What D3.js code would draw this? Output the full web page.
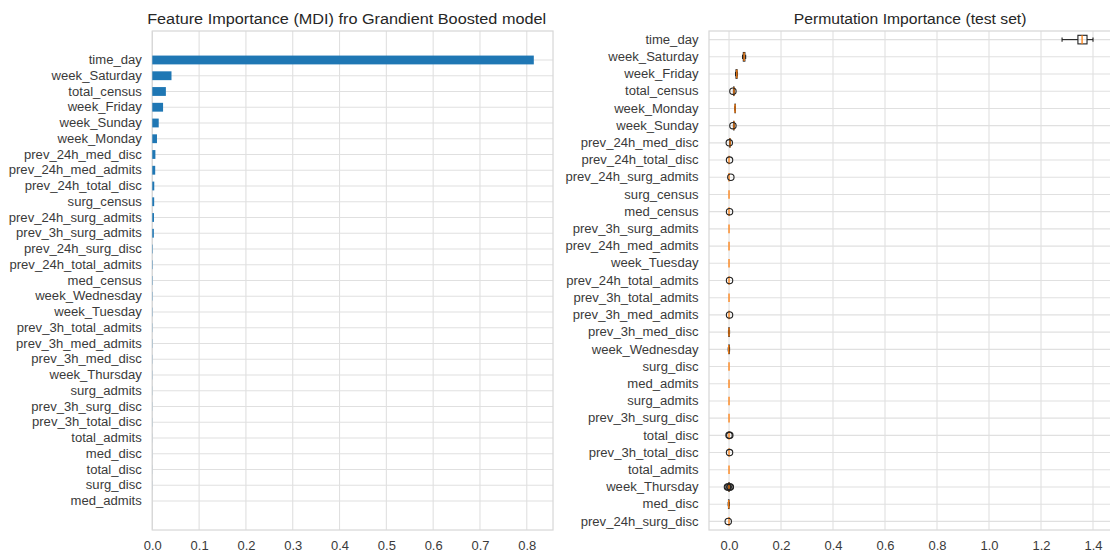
<!DOCTYPE html>
<html>
<head>
<meta charset="utf-8">
<script src="https://cdn.jsdelivr.net/npm/d3@7"></script>
<style>
  html, body { margin: 0; padding: 0; background: #fff; }
  svg { display: block; font-family: "Liberation Sans", Arial, sans-serif; }
  .tick-label { fill: #3a3a3a; font-size: 12px; }
  .title { fill: #262626; font-size: 14px; }
</style>
</head>
<body>
<svg id="chart" width="1110" height="557"></svg>
<script>
// Mean-decrease-in-impurity importances, sorted from largest to smallest
const mdiFeatures = [
  "time_day", "week_Saturday", "total_census", "week_Friday", "week_Sunday",
  "week_Monday", "prev_24h_med_disc", "prev_24h_med_admits", "prev_24h_total_disc",
  "surg_census", "prev_24h_surg_admits", "prev_3h_surg_admits", "prev_24h_surg_disc",
  "prev_24h_total_admits", "med_census", "week_Wednesday", "week_Tuesday",
  "prev_3h_total_admits", "prev_3h_med_admits", "prev_3h_med_disc", "week_Thursday",
  "surg_admits", "prev_3h_surg_disc", "prev_3h_total_disc", "total_admits",
  "med_disc", "total_disc", "surg_disc", "med_admits"
];
const mdiValues = [
  0.815, 0.041, 0.029, 0.023, 0.0137,
  0.0100, 0.0066, 0.0062, 0.0042,
  0.0040, 0.0036, 0.0033, 0.0009,
  0.0008, 0.0007, 0.0006, 0.0005,
  0.0004, 0.0004, 0.0003, 0.0003,
  0.0002, 0.0002, 0.0002, 0.0001,
  0.0001, 0.0001, 0.0001, 0.0000
];
const mdiTicks = [0.0, 0.1, 0.2, 0.3, 0.4, 0.5, 0.6, 0.7, 0.8];

// Permutation importance on the test set: box statistics per feature
const permFeatures = [
  "time_day", "week_Saturday", "week_Friday", "total_census", "week_Monday",
  "week_Sunday", "prev_24h_med_disc", "prev_24h_total_disc", "prev_24h_surg_admits",
  "surg_census", "med_census", "prev_3h_surg_admits", "prev_24h_med_admits",
  "week_Tuesday", "prev_24h_total_admits", "prev_3h_total_admits", "prev_3h_med_admits",
  "prev_3h_med_disc", "week_Wednesday", "surg_disc", "med_admits", "surg_admits",
  "prev_3h_surg_disc", "total_disc", "prev_3h_total_disc", "total_admits",
  "week_Thursday", "med_disc", "prev_24h_surg_disc"
];
const permLow = [
  1.281, 0.052, 0.025, 0.017, 0.022,
  0.017, 0.002, 0.000, 0.000,
  0.000, 0.000, 0.000, 0.000,
  0.000, 0.000, 0.000, 0.000,
  -0.002, -0.003, 0.000, 0.000, 0.000,
  0.000, 0.000, 0.000, 0.000,
  -0.002, -0.003, 0.000
];
const permQ1 = [
  1.342, 0.055, 0.027, 0.018, 0.023,
  0.018, 0.003, 0.000, 0.000,
  0.000, 0.000, 0.000, 0.000,
  0.000, 0.000, 0.000, 0.000,
  -0.001, -0.001, 0.000, 0.000, 0.000,
  0.000, 0.000, 0.000, 0.000,
  -0.001, -0.002, 0.000
];
const permMedian = [
  1.358, 0.058, 0.030, 0.019, 0.023,
  0.019, 0.004, 0.000, 0.000,
  0.000, 0.000, 0.000, 0.000,
  0.000, 0.000, 0.000, 0.000,
  0.000, -0.001, 0.000, 0.000, 0.000,
  0.000, 0.000, 0.000, 0.000,
  0.000, -0.001, 0.000
];
const permQ3 = [
  1.377, 0.061, 0.031, 0.019, 0.024,
  0.019, 0.004, 0.000, 0.000,
  0.000, 0.000, 0.000, 0.000,
  0.000, 0.000, 0.000, 0.000,
  0.001, 0.001, 0.000, 0.000, 0.000,
  0.000, 0.000, 0.000, 0.000,
  0.001, 0.000, 0.000
];
const permHigh = [
  1.400, 0.064, 0.032, 0.020, 0.024,
  0.020, 0.005, 0.000, 0.000,
  0.000, 0.000, 0.000, 0.000,
  0.000, 0.000, 0.000, 0.000,
  0.002, 0.002, 0.000, 0.000, 0.000,
  0.000, 0.000, 0.000, 0.000,
  0.002, 0.001, 0.000
];
const permFliers = [
  [], [], [], [0.015], [],
  [0.015], [0.001], [0.002], [0.007],
  [], [0.002], [], [],
  [], [0.002], [], [0.002],
  [], [], [], [], [],
  [], [0.000, 0.003], [0.002], [],
  [-0.006, -0.003, 0.003, 0.005], [], [-0.003]
];
const permTicks = [0.0, 0.2, 0.4, 0.6, 0.8, 1.0, 1.2, 1.4];

const svg = d3.select("#chart");
const gridColor = "#e0e0e0";
const fmt = d3.format(".1f");

// Text is set slightly wide, as in the original figure's rendering
function widen(sel, factor) {
  sel.each(function () {
    const w = this.getComputedTextLength();
    if (w > 0) {
      d3.select(this)
        .attr("textLength", w * factor)
        .attr("lengthAdjust", "spacingAndGlyphs");
    }
  });
}

// Shared plot frame: white face, light grid, light spines, no tick marks
function drawFrame(g, x, y, xTicks, categories, left, right, top, bottom) {
  g.append("g")
    .selectAll("line.vgrid")
    .data(xTicks)
    .join("line")
    .attr("x1", d => x(d)).attr("x2", d => x(d))
    .attr("y1", top).attr("y2", bottom)
    .attr("stroke", gridColor).attr("stroke-width", 1.1);

  g.append("g")
    .selectAll("line.hgrid")
    .data(categories)
    .join("line")
    .attr("x1", left).attr("x2", right)
    .attr("y1", (d, i) => y(i)).attr("y2", (d, i) => y(i))
    .attr("stroke", gridColor).attr("stroke-width", 1.1);

  g.append("rect")
    .attr("x", left).attr("y", top)
    .attr("width", right - left).attr("height", bottom - top)
    .attr("fill", "none").attr("stroke", "#d8d8d8").attr("stroke-width", 1.25);

  const xAxis = d3.axisBottom(x).tickValues(xTicks).tickFormat(fmt).tickSize(0).tickPadding(11);
  const ax = g.append("g").attr("transform", `translate(0,${bottom})`).call(xAxis);
  ax.select(".domain").remove();
  ax.selectAll("text").attr("class", "tick-label").attr("font-size", null).attr("font-family", null);
  widen(ax.selectAll("text"), 1.08);

  const ylab = g.append("g");
  ylab.selectAll("text")
    .data(categories)
    .join("text")
    .attr("class", "tick-label")
    .attr("x", left - 10.5)
    .attr("y", (d, i) => y(i))
    .attr("dy", "0.35em")
    .attr("text-anchor", "end")
    .text(d => d);
  widen(ylab.selectAll("text"), 1.09);
}

// ---------- Left panel: MDI bar chart ----------
{
  const left = 152.3, right = 553, top = 31, bottom = 530;
  const x = d3.scaleLinear().domain([0, 0.856]).range([left, right]);
  const y = d3.scaleLinear().domain([-1.84, mdiFeatures.length - 1 + 1.84]).range([top, bottom]);
  const g = svg.append("g");
  drawFrame(g, x, y, mdiTicks, mdiFeatures, left, right, top, bottom);

  const barH = y(0.28) - y(-0.28);
  g.append("g")
    .selectAll("rect")
    .data(mdiValues)
    .join("rect")
    .attr("x", x(0))
    .attr("y", (d, i) => y(i) - barH / 2)
    .attr("width", d => x(d) - x(0))
    .attr("height", barH)
    .attr("fill", "#1f77b4");

  const t = g.append("text")
    .attr("class", "title")
    .attr("x", (left + right) / 2 - 6)
    .attr("y", 24)
    .attr("text-anchor", "middle")
    .text("Feature Importance (MDI) fro Grandient Boosted model");
  widen(t, 1.16);
}

// ---------- Right panel: permutation importance box plots ----------
{
  const left = 709, right = 1111.2, top = 31, bottom = 530;
  const x = d3.scaleLinear().domain([-0.077, 1.47]).range([left, right]);
  const y = d3.scaleLinear().domain([-0.5, permFeatures.length - 0.5]).range([top, bottom]);
  const g = svg.append("g");
  drawFrame(g, x, y, permTicks, permFeatures, left, right, top, bottom);

  const boxH = y(0.25) - y(-0.25);
  const capH = boxH / 2;
  const boxes = permFeatures.map((f, i) => ({
    i, low: permLow[i], q1: permQ1[i], med: permMedian[i], q3: permQ3[i],
    high: permHigh[i], fliers: permFliers[i]
  }));

  const bg = g.append("g");
  const b = bg.selectAll("g.box").data(boxes).join("g").attr("class", "box");

  // whiskers
  b.append("line")
    .attr("x1", d => x(d.low)).attr("x2", d => x(d.q1))
    .attr("y1", d => y(d.i)).attr("y2", d => y(d.i))
    .attr("stroke", "#222").attr("stroke-width", 1.1);
  b.append("line")
    .attr("x1", d => x(d.q3)).attr("x2", d => x(d.high))
    .attr("y1", d => y(d.i)).attr("y2", d => y(d.i))
    .attr("stroke", "#222").attr("stroke-width", 1.1);
  // caps
  b.append("line")
    .attr("x1", d => x(d.low)).attr("x2", d => x(d.low))
    .attr("y1", d => y(d.i) - capH / 2).attr("y2", d => y(d.i) + capH / 2)
    .attr("stroke", "#222").attr("stroke-width", 1.1)
    .attr("display", d => d.high - d.low > 0 ? null : "none");
  b.append("line")
    .attr("x1", d => x(d.high)).attr("x2", d => x(d.high))
    .attr("y1", d => y(d.i) - capH / 2).attr("y2", d => y(d.i) + capH / 2)
    .attr("stroke", "#222").attr("stroke-width", 1.1)
    .attr("display", d => d.high - d.low > 0 ? null : "none");
  // box
  b.append("rect")
    .attr("x", d => x(d.q1))
    .attr("y", d => y(d.i) - boxH / 2)
    .attr("width", d => x(d.q3) - x(d.q1))
    .attr("height", boxH)
    .attr("fill", "none")
    .attr("stroke", "#222").attr("stroke-width", 1.1)
    .attr("display", d => d.q3 - d.q1 > 0 ? null : "none");
  // median
  b.append("line")
    .attr("x1", d => x(d.med)).attr("x2", d => x(d.med))
    .attr("y1", d => y(d.i) - boxH / 2).attr("y2", d => y(d.i) + boxH / 2)
    .attr("stroke", "#ff7f0e").attr("stroke-width", 1.3);
  // outliers
  b.selectAll("circle")
    .data(d => d.fliers.map(v => ({ v, i: d.i })))
    .join("circle")
    .attr("cx", d => x(d.v))
    .attr("cy", d => y(d.i))
    .attr("r", 3.2)
    .attr("fill", "none")
    .attr("stroke", "#222")
    .attr("stroke-width", 1.1);

  const t = g.append("text")
    .attr("class", "title")
    .attr("x", (left + right) / 2)
    .attr("y", 24)
    .attr("text-anchor", "middle")
    .text("Permutation Importance (test set)");
  widen(t, 1.12);
}
</script>
</body>
</html>
